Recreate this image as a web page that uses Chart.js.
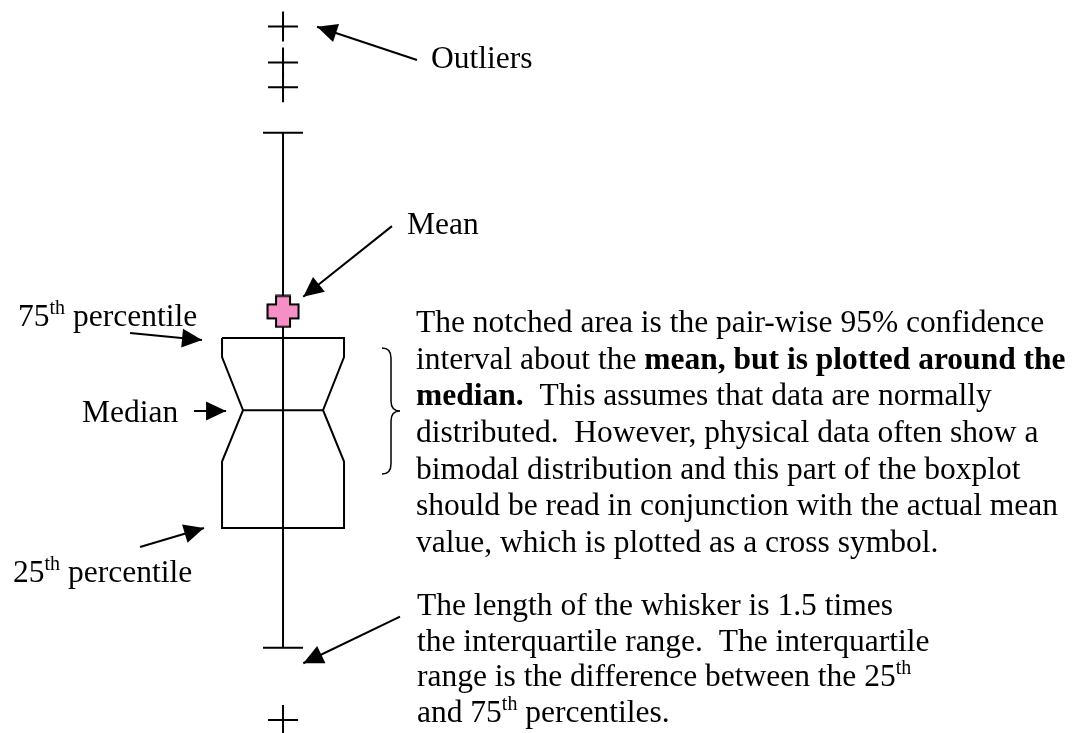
<!DOCTYPE html>
<html lang="en">
<head>
  <meta charset="UTF-8">
  <title>Notched boxplot explained</title>
  <script src="https://cdn.jsdelivr.net/npm/chart.js"></script>
  <style>
    html, body { margin: 0; padding: 0; background: #fff; }
    canvas { display: block; }
  </style>
</head>

<body>
  <canvas id="boxChart" width="1087" height="733"></canvas>

  <script>
    // Box statistics, in value units
    const quartiles = [10, 16.2, 20];          // 25th, median, 75th
    const notchEnds = [13.5, 19];              // lower / upper end of the notch
    const whiskers = [3.7, 30.8];              // low / high whisker
    const outliers = [36.4, 34.5, 33.2, -0.1];
    const mean = [21.4];

    // Annotation arrows: [x, value] from -> to
    const arrowFrom = [[1.098, 34.63], [0.893, 25.89], [-1.254, 20.26], [-0.730, 16.16], [-1.172, 9.0], [0.959, 5.33]];
    const arrowTo = [[0.279, 36.38], [0.166, 22.17], [-0.664, 19.89], [-0.467, 16.16], [-0.648, 10.0], [0.166, 2.88]];

    // Labels: runs of [text, style]
    const labelAt = [[1.213, 34.21], [1.016, 25.47], [-2.172, 20.63], [-1.648, 15.58], [-2.213, 7.16]];
    const labelRuns = [
      [['Outliers']],
      [['Mean']],
      [['75'], ['th', 'sup'], [' percentile']],
      [['Median']],
      [['25'], ['th', 'sup'], [' percentile']]
    ];

    const noteAt = [1.090, 20.32];
    const noteLines = [
      [['The notched area is the pair-wise 95% confidence']],
      [['interval about the '], ['mean, but is plotted around the', 'bold']],
      [['median.', 'bold'], ['  This assumes that data are normally']],
      [['distributed.  However, physical data often show a']],
      [['bimodal distribution and this part of the boxplot']],
      [['should be read in conjunction with the actual mean']],
      [['value, which is plotted as a cross symbol.']]
    ];

    const whiskerNoteAt = [1.098, 5.42];
    const whiskerNoteLines = [
      [['The length of the whisker is 1.5 times']],
      [['the interquartile range.  The interquartile']],
      [['range is the difference between the 25'], ['th', 'sup']],
      [['and 75'], ['th', 'sup'], [' percentiles.']]
    ];

    // Brace beside the notch: x, top value, bottom value, tip x
    const brace = [0.811, 19.47, 12.84, 0.959];

    const BOX_HALF = 0.5, NOTCH_HALF = 0.328, CAP_HALF = 0.164;
    const FONT = "'Liberation Serif', 'Times New Roman', serif";
    const SIZE = 31.5;

    const [q1, med, q3] = quartiles;
    const boxOutline = [
      { x: -BOX_HALF, y: q3 }, { x: BOX_HALF, y: q3 },
      { x: BOX_HALF, y: notchEnds[1] }, { x: NOTCH_HALF, y: med }, { x: BOX_HALF, y: notchEnds[0] },
      { x: BOX_HALF, y: q1 }, { x: -BOX_HALF, y: q1 },
      { x: -BOX_HALF, y: notchEnds[0] }, { x: -NOTCH_HALF, y: med }, { x: -BOX_HALF, y: notchEnds[1] },
      { x: -BOX_HALF, y: q3 }
    ];
    const medianLine = [{ x: -NOTCH_HALF, y: med }, { x: NOTCH_HALF, y: med }];
    const whiskerLine = [{ x: 0, y: whiskers[0] }, { x: 0, y: whiskers[1] }];
    const caps = [
      { x: -CAP_HALF, y: whiskers[1] }, { x: CAP_HALF, y: whiskers[1] }, { x: 0, y: null },
      { x: -CAP_HALF, y: whiskers[0] }, { x: CAP_HALF, y: whiskers[0] }
    ];
    const arrowShafts = [];
    arrowFrom.forEach((f, i) => {
      arrowShafts.push({ x: f[0], y: f[1] }, { x: arrowTo[i][0], y: arrowTo[i][1] }, { x: 0, y: null });
    });

    // pink plus used as the mean marker
    const meanMarker = document.createElement('canvas');
    meanMarker.width = 34;
    meanMarker.height = 34;
    (function () {
      const c = meanMarker.getContext('2d');
      const o = 1.5, s = 31, a = 8.5, b = 22.5;
      c.beginPath();
      c.moveTo(o + a, o); c.lineTo(o + b, o); c.lineTo(o + b, o + a); c.lineTo(o + s, o + a);
      c.lineTo(o + s, o + b); c.lineTo(o + b, o + b); c.lineTo(o + b, o + s); c.lineTo(o + a, o + s);
      c.lineTo(o + a, o + b); c.lineTo(o, o + b); c.lineTo(o, o + a); c.lineTo(o + a, o + a);
      c.closePath();
      c.fillStyle = '#f78fc7';
      c.fill();
      c.lineWidth = 2;
      c.strokeStyle = '#000';
      c.stroke();
    })();

    function drawRuns(ctx, x, y, runs) {
      runs.forEach(([text, style]) => {
        let dy = 0;
        if (style === 'sup') {
          ctx.font = '20px ' + FONT;
          dy = -12;
        } else if (style === 'bold') {
          ctx.font = 'bold ' + SIZE + 'px ' + FONT;
        } else {
          ctx.font = SIZE + 'px ' + FONT;
        }
        ctx.fillText(text, x, y + dy);
        x += ctx.measureText(text).width;
      });
    }

    const annotations = {
      id: 'annotations',
      afterDatasetsDraw(chart) {
        const ctx = chart.ctx;
        const sx = chart.scales.x, sy = chart.scales.y;
        ctx.save();
        ctx.fillStyle = '#000';
        ctx.strokeStyle = '#000';

        // arrow heads
        arrowFrom.forEach((f, i) => {
          const x0 = sx.getPixelForValue(f[0]), y0 = sy.getPixelForValue(f[1]);
          const x1 = sx.getPixelForValue(arrowTo[i][0]), y1 = sy.getPixelForValue(arrowTo[i][1]);
          const ang = Math.atan2(y1 - y0, x1 - x0);
          const len = 20, half = 9.5;
          ctx.beginPath();
          ctx.moveTo(x1, y1);
          ctx.lineTo(x1 - len * Math.cos(ang) - half * Math.sin(ang), y1 - len * Math.sin(ang) + half * Math.cos(ang));
          ctx.lineTo(x1 - len * Math.cos(ang) + half * Math.sin(ang), y1 - len * Math.sin(ang) - half * Math.cos(ang));
          ctx.closePath();
          ctx.fill();
        });

        // brace
        const bx = sx.getPixelForValue(brace[0]);
        const top = sy.getPixelForValue(brace[1]);
        const bot = sy.getPixelForValue(brace[2]);
        const tip = sx.getPixelForValue(brace[3]);
        const mid = (top + bot) / 2;
        const body = (bx + tip) / 2;
        ctx.lineWidth = 1.5;
        ctx.beginPath();
        ctx.moveTo(bx, top);
        ctx.quadraticCurveTo(body, top, body, top + 10);
        ctx.lineTo(body, mid - 10);
        ctx.quadraticCurveTo(body, mid, tip, mid);
        ctx.quadraticCurveTo(body, mid, body, mid + 10);
        ctx.lineTo(body, bot - 10);
        ctx.quadraticCurveTo(body, bot, bx, bot);
        ctx.stroke();

        // text
        ctx.textBaseline = 'alphabetic';
        ctx.textAlign = 'left';
        labelAt.forEach((p, i) => {
          drawRuns(ctx, sx.getPixelForValue(p[0]), sy.getPixelForValue(p[1]), labelRuns[i]);
        });
        const nx = sx.getPixelForValue(noteAt[0]), ny = sy.getPixelForValue(noteAt[1]);
        noteLines.forEach((runs, i) => drawRuns(ctx, nx, ny + i * 36.7, runs));
        const wx = sx.getPixelForValue(whiskerNoteAt[0]), wy = sy.getPixelForValue(whiskerNoteAt[1]);
        whiskerNoteLines.forEach((runs, i) => drawRuns(ctx, wx, wy + i * 35.7, runs));
        ctx.restore();
      }
    };

    const lineStyle = {
      showLine: true,
      pointRadius: 0,
      borderColor: '#000',
      borderWidth: 2,
      spanGaps: false,
      tension: 0
    };

    new Chart(document.getElementById('boxChart').getContext('2d'), {
      type: 'scatter',
      data: {
        datasets: [
          {
            label: 'Mean',
            data: mean.map(v => ({ x: 0, y: v })),
            pointStyle: meanMarker,
            pointRadius: 16
          },
          {
            label: 'Outliers',
            data: outliers.map(v => ({ x: 0, y: v })),
            pointStyle: 'cross',
            pointRadius: 15,
            borderColor: '#000',
            backgroundColor: 'rgba(0,0,0,0)',
            borderWidth: 2
          },
          Object.assign({ label: 'Box', data: boxOutline, borderJoinStyle: 'miter' }, lineStyle),
          Object.assign({ label: 'Median', data: medianLine }, lineStyle),
          Object.assign({ label: 'Caps', data: caps }, lineStyle),
          Object.assign({ label: 'Whisker', data: whiskerLine }, lineStyle),
          Object.assign({ label: 'Arrows', data: arrowShafts }, lineStyle)
        ]
      },
      options: {
        responsive: false,
        animation: false,
        events: [],
        layout: { padding: 0, autoPadding: false },
        plugins: {
          legend: { display: false },
          tooltip: { enabled: false }
        },
        scales: {
          x: { type: 'linear', display: false, min: -2.32, max: 6.59 },
          y: { type: 'linear', display: false, min: -0.79, max: 37.79 }
        }
      },
      plugins: [annotations]
    });
  </script>
</body>
</html>
